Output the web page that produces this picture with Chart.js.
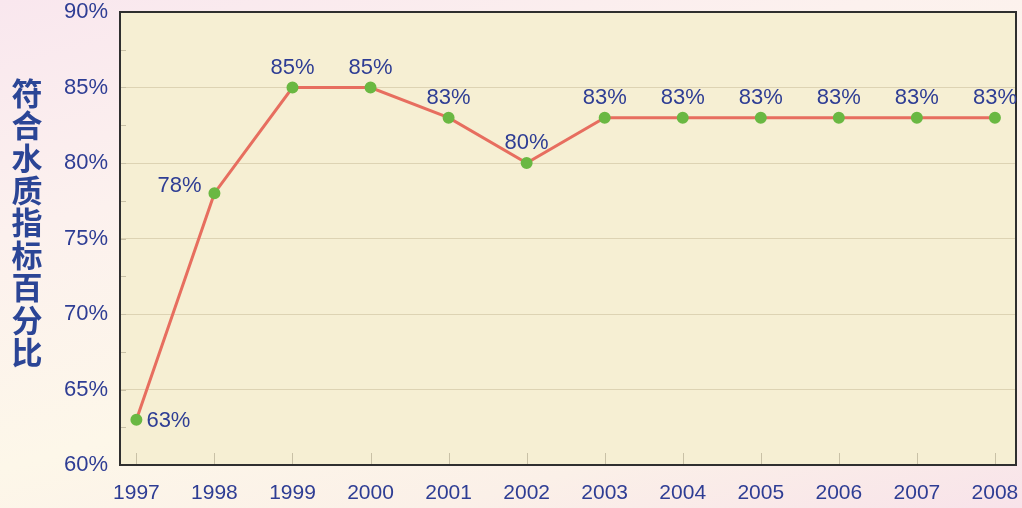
<!DOCTYPE html>
<html>
<head>
<meta charset="utf-8">
<script src="https://cdn.jsdelivr.net/npm/chart.js@4"></script>
<style>
	html, body { margin: 0; padding: 0; }
	body {
		width: 1022px; height: 508px; overflow: hidden;
		background: linear-gradient(165deg, #f9e7ee 0%, #fcf1ee 30%, #fdf7e9 60%, #fbf0e8 80%, #f8e3ea 100%);
	}
	#wrap { position: relative; width: 1022px; height: 508px; }
</style>
</head>
<body>
<div id="wrap"><canvas id="chart" width="1022" height="508"></canvas></div>
<script>
const years = [1997, 1998, 1999, 2000, 2001, 2002, 2003, 2004, 2005, 2006, 2007, 2008];
const percents = [63, 78, 85, 85, 83, 80, 83, 83, 83, 83, 83, 83];
const yTicks = [60, 65, 70, 75, 80, 85, 90];
const axisTitle = '符合水质指标百分比';

const textBlue = '#2e3d94';
const labelFont = '22px "Liberation Sans", Arial, sans-serif';

const noPad = s => {
	s.paddingLeft = 0; s.paddingRight = 0;
	s.paddingTop = 0; s.paddingBottom = 0;
};

// plot frame, fill, inward tick marks
const framePlugin = {
	id: 'frame',
	beforeDraw(chart) {
		const { ctx, chartArea: a } = chart;
		ctx.save();
		ctx.fillStyle = '#f6efd3';
		ctx.fillRect(a.left, a.top, a.right - a.left, a.bottom - a.top);
		ctx.restore();
	},
	afterDatasetsDraw(chart) {
		const { ctx, chartArea: a, scales } = chart;
		ctx.save();
		ctx.strokeStyle = '#c9c1a6';
		ctx.lineWidth = 1;
		// minor ticks on left axis every 2.5%
		for (let v = yTicks[0]; v <= yTicks[yTicks.length - 1]; v += 2.5) {
			const y = Math.round(scales.y.getPixelForValue(v)) + 0.5;
			ctx.beginPath();
			ctx.moveTo(a.left, y);
			ctx.lineTo(a.left + 6, y);
			ctx.stroke();
		}
		years.forEach(yr => {
			const x = Math.round(scales.x.getPixelForValue(yr)) + 0.5;
			ctx.beginPath();
			ctx.moveTo(x, a.bottom);
			ctx.lineTo(x, a.bottom - 12);
			ctx.stroke();
		});
		ctx.strokeStyle = '#2f2f2f';
		ctx.lineWidth = 2;
		ctx.strokeRect(a.left, a.top, a.right - a.left, a.bottom - a.top);
		ctx.restore();
	},
	afterDraw(chart) {
		const { ctx } = chart;
		// value labels
		const meta = chart.getDatasetMeta(0);
		ctx.save();
		ctx.font = labelFont;
		ctx.fillStyle = textBlue;
		ctx.textBaseline = 'middle';
		meta.data.forEach((pt, i) => {
			const txt = percents[i] + '%';
			if (i === 0) {
				ctx.textAlign = 'left';
				ctx.fillText(txt, pt.x + 10, pt.y + 1);
			} else if (i === 1) {
				ctx.textAlign = 'right';
				ctx.fillText(txt, pt.x - 13, pt.y - 7);
			} else {
				ctx.textAlign = 'center';
				ctx.fillText(txt, pt.x, pt.y - 20);
			}
		});
		// stacked vertical axis title
		ctx.font = 'bold 31px "Noto Sans CJK SC", sans-serif';
		ctx.fillStyle = '#2b4596';
		ctx.textAlign = 'center';
		[...axisTitle].forEach((ch, i) => {
			ctx.fillText(ch, 27, 93 + i * 32.4);
		});
		ctx.restore();
	}
};

new Chart(document.getElementById('chart'), {
	type: 'line',
	data: {
		datasets: [{
			data: years.map((yr, i) => ({ x: yr, y: percents[i] })),
			borderColor: '#e76e5f',
			borderWidth: 3,
			pointBackgroundColor: '#6ab842',
			pointBorderColor: '#6ab842',
			pointRadius: 4.5,
			tension: 0
		}]
	},
	options: {
		responsive: false,
		animation: false,
		layout: { autoPadding: false, padding: { top: 12, right: 6, left: 0, bottom: 0 } },
		plugins: { legend: { display: false }, tooltip: { enabled: false } },
		scales: {
			x: {
				type: 'linear',
				min: 1996.79,
				max: 2008.27,
				afterBuildTicks: s => { s.ticks = years.map(v => ({ value: v })); },
				afterFit: s => { s.height = 43; noPad(s); },
				grid: { display: false, drawTicks: false },
				border: { display: false },
				ticks: {
					autoSkip: false,
					maxRotation: 0,
					padding: 16,
					color: textBlue,
					font: { family: '"Liberation Sans", Arial, sans-serif', size: 21 },
					callback: v => String(v)
				}
			},
			y: {
				min: 60,
				max: 90,
				afterBuildTicks: s => { s.ticks = yTicks.map(v => ({ value: v })); },
				afterFit: s => { s.width = 120; noPad(s); },
				grid: { color: 'rgba(190,178,140,0.45)', drawTicks: false, lineWidth: 1 },
				border: { display: false },
				ticks: {
					padding: 12,
					color: textBlue,
					font: { family: '"Liberation Sans", Arial, sans-serif', size: 22 },
					callback: v => v + '%'
				}
			}
		}
	},
	plugins: [framePlugin]
});
</script>
</body>
</html>
